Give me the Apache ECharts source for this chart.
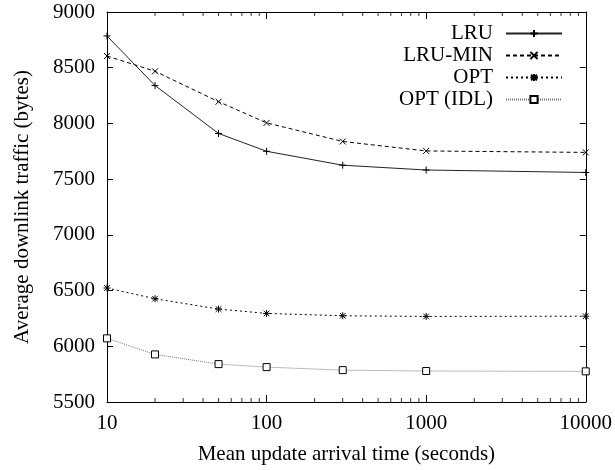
<!DOCTYPE html>
<html>
<head>
<meta charset="utf-8">
<script src="https://cdn.jsdelivr.net/npm/echarts@6/dist/echarts.min.js"></script>
<style>html,body{margin:0;padding:0;background:#fff}#c{width:615px;height:470px}</style>
</head>
<body>
<div id="c"></div>
<script>
var xValues = [10, 20, 50, 100, 300, 1000, 10000];
var lru = [8785, 8340, 7910, 7750, 7625, 7582, 7560];
var lruMin = [8605, 8468, 8195, 8005, 7838, 7753, 7740];
var opt = [6523, 6427, 6334, 6295, 6274, 6268, 6270];
var optIdl = [6071, 5927, 5840, 5813, 5786, 5778, 5775];
var minorTickValues = [20, 30, 40, 50, 60, 70, 80, 90, 200, 300, 400, 500, 600, 700, 800, 900, 2000, 3000, 4000, 5000, 6000, 7000, 8000, 9000];
var xTickLabels = ['10', '100', '1000', '10000'];
var yMin = 5500, yMax = 9000, yStep = 500;

var FONT = 'Liberation Serif';
function pairs(ys) { return xValues.map(function (x, i) { return [x, ys[i]]; }); }

var plusPath = 'path://M0,5L10,5M5,0L5,10';
var crossPath = 'path://M0,0L10,10M10,0L0,10';
var starPath = 'path://M0,5L10,5M5,0L5,10M1,1L9,9M9,1L1,9';

function lineSeries(name, ys, color, dash, symbol, size) {
  return {
    name: name, type: 'line', data: pairs(ys), clip: false,
    symbol: symbol, symbolSize: size, showSymbol: true,
    lineStyle: { color: color, width: 1, type: dash },
    itemStyle: { color: symbol === 'rect' ? '#fff' : 'none', borderColor: '#000', borderWidth: 1 },
    emphasis: { disabled: true }, animation: false, z: 3
  };
}
function tickSeries(yv, offset) {
  return {
    type: 'scatter', data: minorTickValues.map(function (v) { return [v, yv]; }),
    symbol: 'rect', symbolSize: [1, 4], symbolOffset: [0, offset], clip: false,
    itemStyle: { color: '#000' }, silent: true, animation: false, z: 1
  };
}

var chart = echarts.init(document.getElementById('c'));
chart.setOption({
  animation: false,
  textStyle: { fontFamily: FONT },
  grid: { left: 107, right: 28, top: 12, bottom: 68 },
  legend: {
    orient: 'vertical', right: 47, top: 18, align: 'right',
    itemWidth: 56, itemHeight: 9, itemGap: 1,
    textStyle: { fontFamily: FONT, fontSize: 21, color: '#000', padding: [0, 8, 0, 0] },
    data: ['LRU', 'LRU-MIN', 'OPT', 'OPT (IDL)']
  },
  xAxis: [{
    type: 'log', logBase: 10, min: 10, max: 10000,
    name: 'Mean update arrival time (seconds)', nameLocation: 'middle', nameGap: 42,
    nameTextStyle: { fontFamily: FONT, fontSize: 21, color: '#000' },
    axisLine: { show: true, lineStyle: { color: '#000', width: 1 } },
    axisTick: { show: true, inside: true, length: 7, lineStyle: { color: '#000' } },
    axisLabel: { fontFamily: FONT, fontSize: 21, color: '#000', margin: 11,
      formatter: function (v) { var s = String(Math.round(v)); return xTickLabels.indexOf(s) >= 0 ? s : ''; } },
    splitLine: { show: false }
  }, {
    type: 'log', logBase: 10, min: 10, max: 10000, position: 'top',
    axisLine: { show: true, lineStyle: { color: '#000', width: 1 } },
    axisTick: { show: true, inside: true, length: 7, lineStyle: { color: '#000' } },
    axisLabel: { show: false }, splitLine: { show: false }
  }],
  yAxis: [{
    type: 'value', min: yMin, max: yMax, interval: yStep,
    name: 'Average downlink traffic (bytes)', nameLocation: 'middle', nameGap: 74,
    nameTextStyle: { fontFamily: FONT, fontSize: 21, color: '#000' },
    axisLine: { show: true, lineStyle: { color: '#000', width: 1 } },
    axisTick: { show: true, inside: true, length: 6, lineStyle: { color: '#000' } },
    axisLabel: { fontFamily: FONT, fontSize: 21, color: '#000', margin: 12,
      formatter: function (v) { return String(v); } },
    splitLine: { show: false }
  }, {
    type: 'value', min: yMin, max: yMax, interval: yStep, position: 'right',
    axisLine: { show: true, lineStyle: { color: '#000', width: 1 } },
    axisTick: { show: true, inside: true, length: 6, lineStyle: { color: '#000' } },
    axisLabel: { show: false }, splitLine: { show: false }
  }],
  series: [
    lineSeries('LRU', lru, '#222', 'solid', plusPath, 7),
    lineSeries('LRU-MIN', lruMin, '#000', [4, 3], crossPath, 6),
    lineSeries('OPT', opt, '#000', [2, 3], starPath, 7),
    lineSeries('OPT (IDL)', optIdl, '#777', [1, 1], 'rect', 7),
    tickSeries(yMin, -2),
    tickSeries(yMax, 2)
  ]
});
</script>
</body>
</html>
